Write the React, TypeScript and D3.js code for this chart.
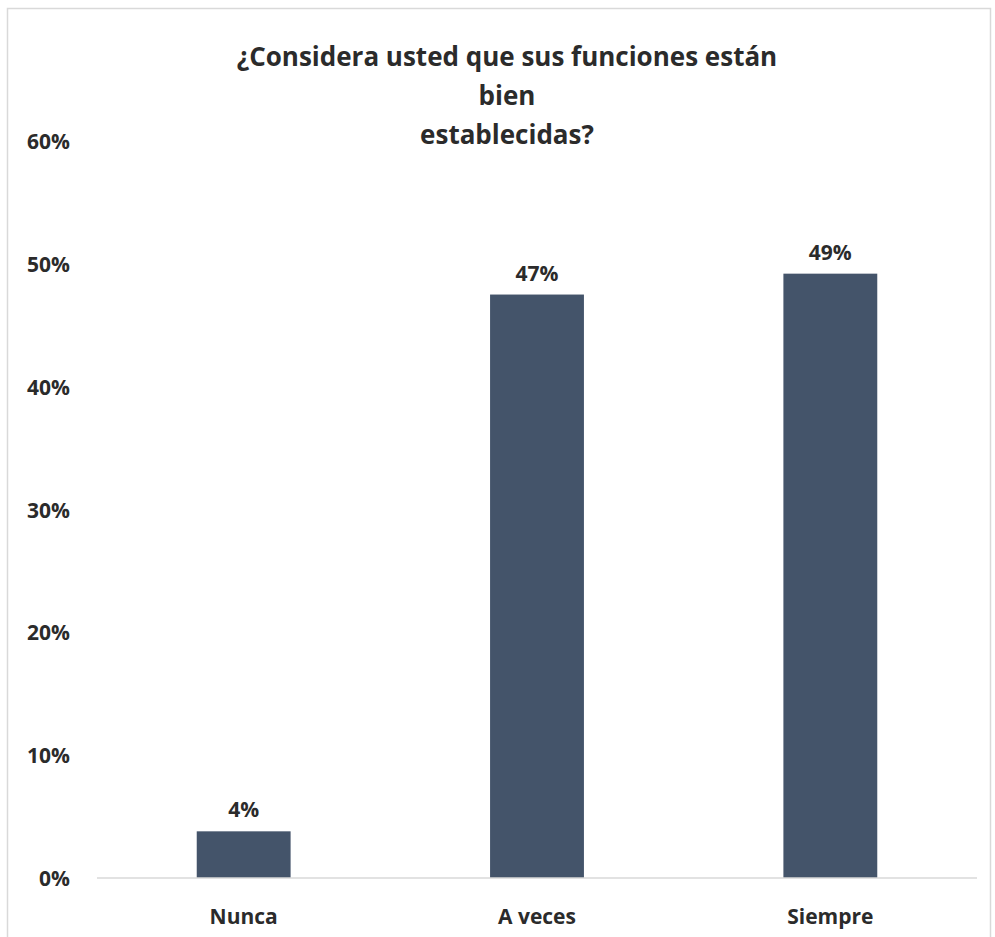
import React from "react";
import * as d3 from "d3";

const titleLines = ["¿Considera usted que sus funciones están", "bien", "establecidas?"];
const categories = ["Nunca", "A veces", "Siempre"];
const values = [0.038, 0.475, 0.492];
const valueLabels = ["4%", "47%", "49%"];
const yTicks = [0, 0.1, 0.2, 0.3, 0.4, 0.5, 0.6];

const W = 995;
const H = 937;
const FONT = "'Open Sans', 'Noto Sans', sans-serif";
const TEXT = "#2b2b2b";

export default function App() {
  const x = d3.scaleBand<string>().domain(categories).range([97, 977]).paddingInner(0.68).paddingOuter(0.34);
  const y = d3.scaleLinear().domain([0, 0.6]).range([878, 141]);
  const fmt = d3.format(".0%");
  return (
    <svg width={W} height={H} style={{ position: "absolute", left: 0, top: 0, background: "#fff" }}>
      <rect x={7.5} y={8.5} width={983} height={940} fill="#fff" stroke="#d9d9d9" strokeWidth={1.5} />
      {titleLines.map((t, i) => (
        <text key={i} x={507} y={66 + i * 39} textAnchor="middle" fontFamily={FONT} fontWeight={700} fontSize={26} fill={TEXT}>
          {t}
        </text>
      ))}
      {yTicks.map((t) => (
        <text key={t} x={70} y={y(t) + 8} textAnchor="end" fontFamily={FONT} fontWeight={700} fontSize={21} fill={TEXT}>
          {fmt(t)}
        </text>
      ))}
      {categories.map((c, i) => (
        <rect key={c} x={x(c)} y={y(values[i])} width={x.bandwidth()} height={y(0) - y(values[i])} fill="#44546a" />
      ))}
      <line x1={97} x2={977} y1={y(0)} y2={y(0)} stroke="#d9d9d9" strokeWidth={1.5} />
      {categories.map((c, i) => (
        <text key={c} x={(x(c) as number) + x.bandwidth() / 2} y={y(values[i]) - 14} textAnchor="middle" fontFamily={FONT} fontWeight={700} fontSize={21} fill={TEXT}>
          {valueLabels[i]}
        </text>
      ))}
      {categories.map((c) => (
        <text key={c} x={(x(c) as number) + x.bandwidth() / 2} y={924} textAnchor="middle" fontFamily={FONT} fontWeight={700} fontSize={21} fill={TEXT}>
          {c}
        </text>
      ))}
    </svg>
  );
}
